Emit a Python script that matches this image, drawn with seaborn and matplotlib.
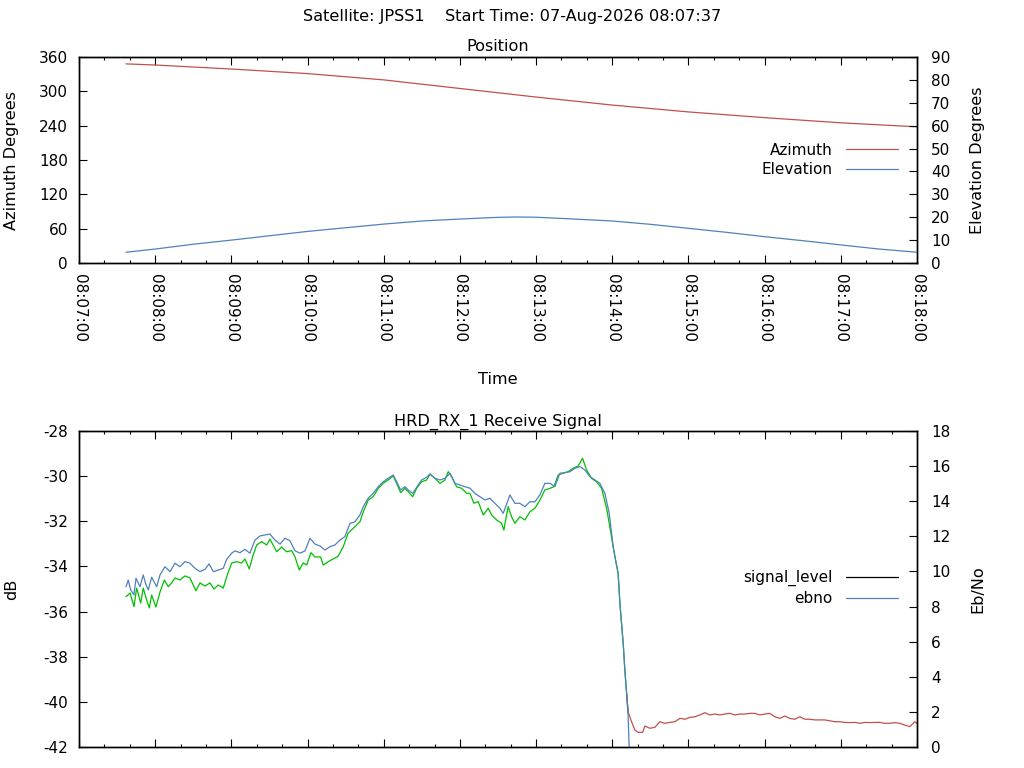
import numpy as np
import pandas as pd
import matplotlib
matplotlib.use("Agg")
import matplotlib.pyplot as plt
from matplotlib.lines import Line2D
from matplotlib.ticker import MultipleLocator
import seaborn as sns

# seconds after 08:07:00
TIME_TICKS = [0, 60, 120, 180, 240, 300, 360, 420, 480, 540, 600, 660]
TIME_LABELS = ["08:07:00", "08:08:00", "08:09:00", "08:10:00", "08:11:00", "08:12:00",
               "08:13:00", "08:14:00", "08:15:00", "08:16:00", "08:17:00", "08:18:00"]

az_t = [37, 60, 120, 180, 240, 300, 360, 420, 480, 540, 600, 660]
azimuth = [348, 346, 339, 331, 320, 305, 290, 276, 264, 254, 245, 238]

el_t = [37, 60, 90, 120, 150, 180, 210, 240, 270, 300, 330, 345, 360, 390, 420,
        450, 480, 510, 540, 570, 600, 630, 660]
elevation = [4.7, 6.1, 8.2, 10.0, 11.9, 13.8, 15.4, 17.0, 18.35, 19.2, 19.95, 20.1, 20.0,
             19.2, 18.35, 16.9, 15.15, 13.4, 11.5, 9.75, 7.9, 6.1, 4.7]

sig_t = [37.0, 40.2, 43.3, 45.4, 48.6, 50.6, 53.3, 55.4, 57.2, 60.6, 63.8, 67.2, 70.3, 73.0,
         75.6, 79.5, 83.5, 87.4, 92.1, 95.3, 99.2, 103.1, 106.3, 109.7, 113.6, 116.3, 120.2,
         124.2, 128.1, 130.7, 134.1, 137.2, 139.9, 143.9, 147.8, 150.4, 155.7, 159.6, 163.5,
         167.5, 170.1, 173.5, 176.6, 179.3, 182.7, 185.8, 190.3, 192.4, 196.3, 200.2, 204.2,
         208.1, 212.0, 217.3, 221.3, 223.9, 227.8, 231.7, 235.7, 239.6, 243.5, 247.5, 250.2,
         253.3, 256.7, 259.3, 262.8, 265.9, 269.8, 273.8, 276.4, 280.3, 284.3, 288.2, 290.8,
         293.5, 297.4, 301.3, 305.3, 307.9, 311.0, 314.4, 318.4, 322.3, 325.0, 328.9, 332.8,
         334.6, 338.0, 340.7, 343.3, 347.2, 351.2, 355.1, 359.1, 363.0, 366.9, 370.9, 374.0,
         377.4, 381.3, 385.3, 389.2, 393.2, 396.6, 399.8, 403.7, 407.6, 411.6, 415.5, 417.6,
         420.7, 422.6, 424.6, 426.0, 427.3, 428.6, 429.9, 431.3, 432.5, 435.2, 437.8, 440.4,
         443.9, 445.7, 449.6, 453.5, 457.5, 461.4, 465.4, 469.3, 473.3, 477.2, 481.1, 485.1,
         489.0, 492.9, 496.9, 500.8, 504.7, 508.7, 512.6, 516.5, 520.5, 524.4, 528.3, 532.3,
         536.2, 540.2, 544.1, 548.0, 552.0, 555.9, 559.8, 563.8, 567.7, 571.7, 575.6, 579.5,
         583.5, 587.4, 591.3, 595.3, 599.2, 603.1, 607.1, 611.0, 615.0, 618.9, 622.8, 626.8,
         630.7, 634.6, 638.6, 642.5, 646.5, 650.4, 654.3, 658.3, 660.0]
signal_level = [-35.34, -35.18, -35.78, -34.96, -35.62, -34.96, -35.49, -35.84, -35.27, -35.80,
                -35.13, -34.60, -34.90, -34.73, -34.51, -34.60, -34.42, -34.51, -35.08, -34.73,
                -34.87, -34.73, -35.00, -34.82, -34.96, -34.46, -33.85, -33.79, -33.85, -33.67,
                -34.11, -33.49, -33.05, -32.90, -33.05, -32.79, -33.35, -33.14, -33.35, -33.30,
                -33.57, -34.16, -33.84, -33.94, -33.39, -33.58, -33.58, -33.94, -33.79, -33.67,
                -33.54, -33.13, -32.52, -32.24, -32.02, -31.58, -31.06, -30.91, -30.54, -30.32,
                -30.17, -29.99, -30.32, -30.73, -30.54, -30.69, -30.91, -30.54, -30.25, -30.17,
                -29.91, -30.10, -30.32, -30.17, -29.80, -30.02, -30.47, -30.54, -30.76, -30.76,
                -31.20, -31.13, -31.72, -31.42, -31.72, -31.94, -32.09, -32.39, -31.35, -31.80,
                -32.09, -31.80, -31.94, -31.58, -31.42, -31.06, -30.61, -30.54, -30.47, -29.95,
                -29.87, -29.80, -29.65, -29.55, -29.21, -29.73, -30.10, -30.25, -30.54, -31.42,
                -32.09, -33.13, -33.72, -34.30, -35.63, -36.52, -37.41, -38.59, -39.62, -40.45,
                -40.88, -41.25, -41.35, -41.35, -41.07, -41.17, -41.13, -40.88, -40.95, -40.91,
                -40.88, -40.73, -40.77, -40.69, -40.66, -40.58, -40.48, -40.58, -40.54, -40.58,
                -40.54, -40.51, -40.58, -40.54, -40.54, -40.51, -40.51, -40.58, -40.54, -40.51,
                -40.66, -40.73, -40.63, -40.73, -40.77, -40.66, -40.77, -40.77, -40.80, -40.80,
                -40.80, -40.84, -40.88, -40.88, -40.91, -40.92, -40.91, -40.95, -40.91, -40.92,
                -40.91, -40.91, -40.95, -40.95, -40.92, -40.95, -41.03, -41.10, -40.88, -40.95]

ebno_t = [37.0, 38.8, 40.7, 43.3, 44.9, 48.0, 50.6, 52.8, 54.6, 57.2, 61.2, 63.8, 67.7, 71.7,
          75.6, 79.5, 83.5, 87.4, 91.3, 95.3, 99.2, 102.4, 105.8, 109.7, 113.6, 116.3, 120.2,
          122.8, 126.8, 130.7, 134.6, 138.6, 142.5, 146.5, 150.4, 154.3, 158.3, 162.2, 166.1,
          170.1, 174.0, 178.0, 181.9, 185.8, 189.8, 193.7, 197.6, 201.6, 205.5, 209.4, 213.4,
          217.3, 221.3, 223.9, 227.8, 231.7, 235.7, 239.6, 243.5, 247.5, 250.2, 253.3, 256.7,
          259.3, 262.8, 265.9, 269.8, 273.8, 276.4, 280.3, 284.3, 288.2, 292.1, 296.1, 300.0,
          303.9, 307.9, 311.8, 315.7, 319.7, 323.6, 327.6, 331.5, 334.1, 339.4, 343.3, 347.2,
          351.2, 355.1, 359.1, 363.0, 366.9, 370.9, 374.8, 378.7, 382.7, 386.6, 390.6, 394.5,
          398.4, 402.4, 406.3, 410.2, 414.2, 417.6, 420.7, 422.6, 424.6, 426.0, 427.3, 428.6,
          429.9, 431.3, 432.5, 433.3, 434.0]
ebno = [9.13, 9.51, 8.95, 8.66, 9.61, 9.13, 9.80, 9.23, 8.95, 9.67, 9.13, 9.80, 10.27, 9.99,
        10.47, 10.27, 10.56, 10.47, 10.18, 9.99, 10.12, 10.43, 9.99, 10.08, 10.18, 10.69, 11.04,
        11.17, 11.07, 11.26, 11.04, 11.79, 12.02, 12.08, 12.13, 11.79, 11.56, 11.89, 11.75,
        11.18, 11.04, 11.17, 11.89, 11.56, 11.45, 11.22, 11.41, 11.51, 11.79, 11.98, 12.74,
        12.83, 13.22, 13.69, 14.17, 14.45, 14.83, 15.11, 15.31, 15.49, 15.11, 14.64, 14.83,
        14.64, 14.45, 14.79, 15.21, 15.36, 15.55, 15.31, 15.21, 15.31, 15.59, 15.02, 14.92,
        14.83, 14.74, 14.45, 14.26, 14.07, 14.17, 13.88, 13.60, 13.31, 14.36, 13.88, 13.88,
        13.69, 13.97, 13.97, 14.36, 15.02, 15.02, 14.83, 15.59, 15.63, 15.68, 15.88, 15.97,
        15.78, 15.40, 15.21, 15.02, 14.45, 13.31, 11.41, 10.65, 9.90, 8.19, 7.05, 5.91,
        4.39, 3.06, 1.73, 0.02, -0.5]

RED = "#c0504d"
BLUE = "#4f81bd"
GREEN = "#00c000"
W, H = 1024, 768
X0, X1 = 79, 917
FS = 11.6  # titles / labels


def style_axes(ax, ax2):
    for a in (ax, ax2):
        for s in a.spines.values():
            s.set_linewidth(1.0)
            s.set_color("black")
    ax.set_xlim(0, 660)
    ax.set_xticks(TIME_TICKS)
    ax.xaxis.set_minor_locator(MultipleLocator(20))
    ax.tick_params(axis="x", which="both", direction="in", top=True, bottom=True,
                   width=0.8, color="black")
    ax.tick_params(axis="x", which="major", length=5.5)
    ax.tick_params(axis="x", which="minor", length=2.5)
    ax.tick_params(axis="y", direction="in", length=5.5, width=0.8, right=False,
                   labelsize=11, pad=8)
    ax2.tick_params(axis="y", direction="in", length=5.5, width=0.8, left=False,
                    labelsize=11, pad=10)


def legend(ax, handles, labels, y):
    ax.legend(handles, labels, loc="center right", bbox_to_anchor=((898 - X0) / (X1 - X0), y),
              frameon=False, markerfirst=False, handlelength=3.4, handletextpad=0.9,
              labelspacing=0.3, borderpad=0, borderaxespad=0, fontsize=11)


def main():
    sns.set_theme(style="ticks")
    plt.rcParams["font.family"] = ["DejaVu Sans"]
    plt.rcParams["axes.unicode_minus"] = False
    plt.rcParams["text.color"] = "black"
    plt.rcParams["xtick.color"] = "black"
    plt.rcParams["ytick.color"] = "black"
    plt.rcParams["axes.labelcolor"] = "black"

    fig = plt.figure(figsize=(W / 100, H / 100), dpi=100)
    fig.text(0.5, 1 - 17 / H, "Satellite: JPSS1    Start Time: 07-Aug-2026 08:07:37",
             ha="center", va="center", fontsize=FS)

    # ---- Position ----
    ax1 = fig.add_axes([X0 / W, 1 - 263 / H, (X1 - X0) / W, 206 / H])
    ax1b = ax1.twinx()
    sns.lineplot(x=az_t, y=azimuth, ax=ax1, color=RED, linewidth=0.9, sort=False, estimator=None)
    sns.lineplot(x=el_t, y=elevation, ax=ax1b, color=BLUE, linewidth=0.9, sort=False, estimator=None)
    ax1.set_ylim(0, 360)
    ax1.set_yticks(np.arange(0, 361, 60))
    ax1b.set_ylim(0, 90)
    ax1b.set_yticks(np.arange(0, 91, 10))
    style_axes(ax1, ax1b)
    ax1.set_xticklabels(TIME_LABELS, rotation=-90, fontsize=11)
    ax1.tick_params(axis="x", pad=8)
    ax1.set_title("Position", fontsize=FS, pad=4)
    ax1.set_xlabel("Time", fontsize=FS)
    ax1.xaxis.set_label_coords(0.5, (263 - 372) / 206)
    ax1.set_ylabel("Azimuth Degrees", fontsize=FS)
    ax1.yaxis.set_label_coords((19 - X0) / (X1 - X0), 0.5)
    ax1b.set_ylabel("Elevation Degrees", fontsize=FS)
    ax1b.yaxis.set_label_coords((970 - X0) / (X1 - X0), 0.5)
    legend(ax1b, [Line2D([], [], color=RED, lw=0.9), Line2D([], [], color=BLUE, lw=0.9)],
           ["Azimuth", "Elevation"], (263 - 160) / 206)

    # ---- Receive signal ----
    ax2 = fig.add_axes([X0 / W, 1 - 747 / H, (X1 - X0) / W, 316 / H])
    ax2b = ax2.twinx()
    t = np.array(sig_t)
    v = np.array(signal_level)
    locked = t <= 432.5
    lost = t >= 431.3
    sns.lineplot(x=t[locked], y=v[locked], ax=ax2, color=GREEN, linewidth=0.9,
                 sort=False, estimator=None)
    sns.lineplot(x=t[lost], y=v[lost], ax=ax2, color=RED, linewidth=0.9,
                 sort=False, estimator=None)
    sns.lineplot(x=ebno_t, y=ebno, ax=ax2b, color=BLUE, linewidth=0.9, sort=False, estimator=None)
    ax2.set_ylim(-42, -28)
    ax2.set_yticks(np.arange(-42, -27, 2))
    ax2b.set_ylim(0, 18)
    ax2b.set_yticks(np.arange(0, 19, 2))
    style_axes(ax2, ax2b)
    ax2.set_xticklabels([])
    ax2.set_xlabel("")
    ax2.set_title("HRD_RX_1 Receive Signal", fontsize=FS, pad=4)
    ax2.set_ylabel("dB", fontsize=FS)
    ax2.yaxis.set_label_coords((19 - X0) / (X1 - X0), 0.5)
    ax2b.set_ylabel("Eb/No", fontsize=FS)
    ax2b.yaxis.set_label_coords((970 - X0) / (X1 - X0), 0.5)
    legend(ax2b, [Line2D([], [], color="black", lw=0.9), Line2D([], [], color=BLUE, lw=0.9)],
           ["signal_level", "ebno"], (747 - 588) / 316)

    fig.savefig("out.png", dpi=100)


if __name__ == "__main__":
    main()
